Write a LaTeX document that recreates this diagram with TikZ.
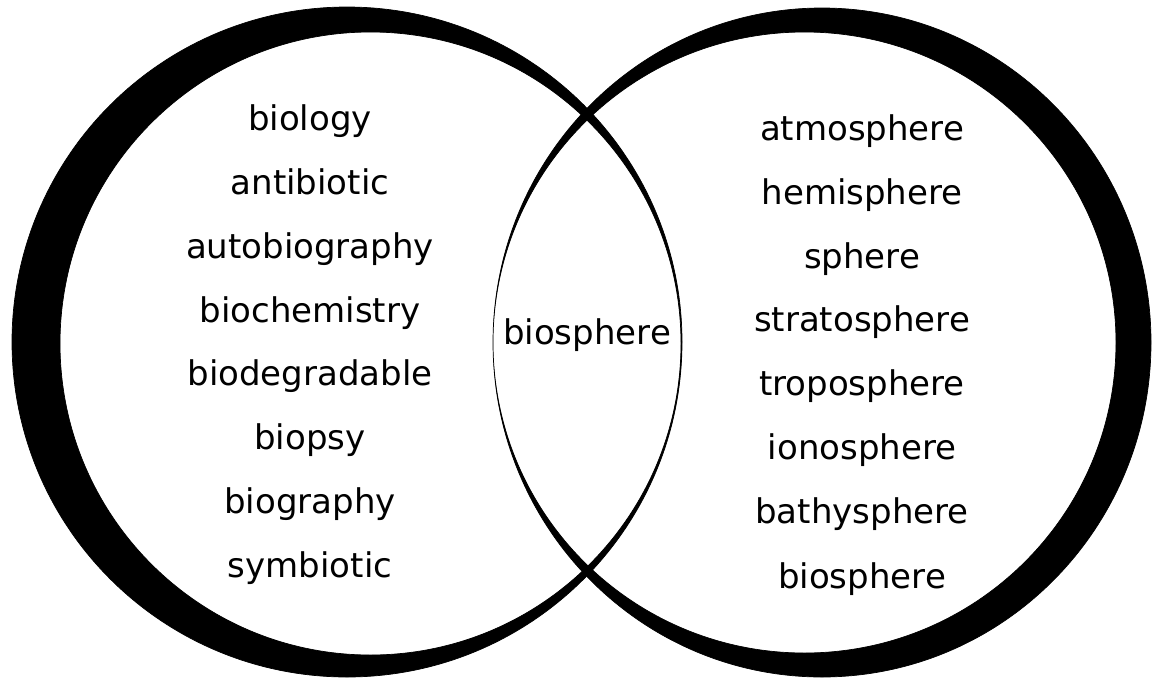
\documentclass[tikz,border=0pt]{standalone}
\usepackage{fontspec}
\setmainfont{DejaVu Sans}
\usepackage{tikz}

\begin{document}
\begin{tikzpicture}[x=1pt,y=-1pt,
		word/.style={anchor=base,inner sep=0pt,font=\fontsize{34}{40}\selectfont},
		ring/.style={fill=black,draw=black,line width=0.7pt,even odd rule}]
				\useasboundingbox (0,0) rectangle (1154,678);
				\filldraw[ring] (347,342) ellipse [x radius=335,y radius=335] (370.5,343.5) ellipse [x radius=310.5,y radius=311.5];
				\filldraw[ring] (822,342.5) ellipse [x radius=329,y radius=334.5] (804.5,342.5) ellipse [x radius=311.5,y radius=310.5];
				\node[word] (biology) at (310,130) {biology};
				\node[word] (antibiotic) at (310,194) {antibiotic};
				\node[word] (autobiography) at (310,258) {autobiography};
				\node[word] (biochemistry) at (310,322) {biochemistry};
				\node[word] (biodegradable) at (310,385) {biodegradable};
				\node[word] (biopsy) at (310,449) {biopsy};
				\node[word] (biography) at (310,513) {biography};
				\node[word] (symbiotic) at (310,577) {symbiotic};
				\node[word] (common) at (587,344) {biosphere};
				\node[word] (atmosphere) at (862,140) {atmosphere};
				\node[word] (hemisphere) at (862,204) {hemisphere};
				\node[word] (sphere) at (862,268) {sphere};
				\node[word] (stratosphere) at (862,331) {stratosphere};
				\node[word] (troposphere) at (862,395) {troposphere};
				\node[word] (ionosphere) at (862,459) {ionosphere};
				\node[word] (bathysphere) at (862,523) {bathysphere};
				\node[word] (biosphereR) at (862,588) {biosphere};
\end{tikzpicture}
\end{document}
